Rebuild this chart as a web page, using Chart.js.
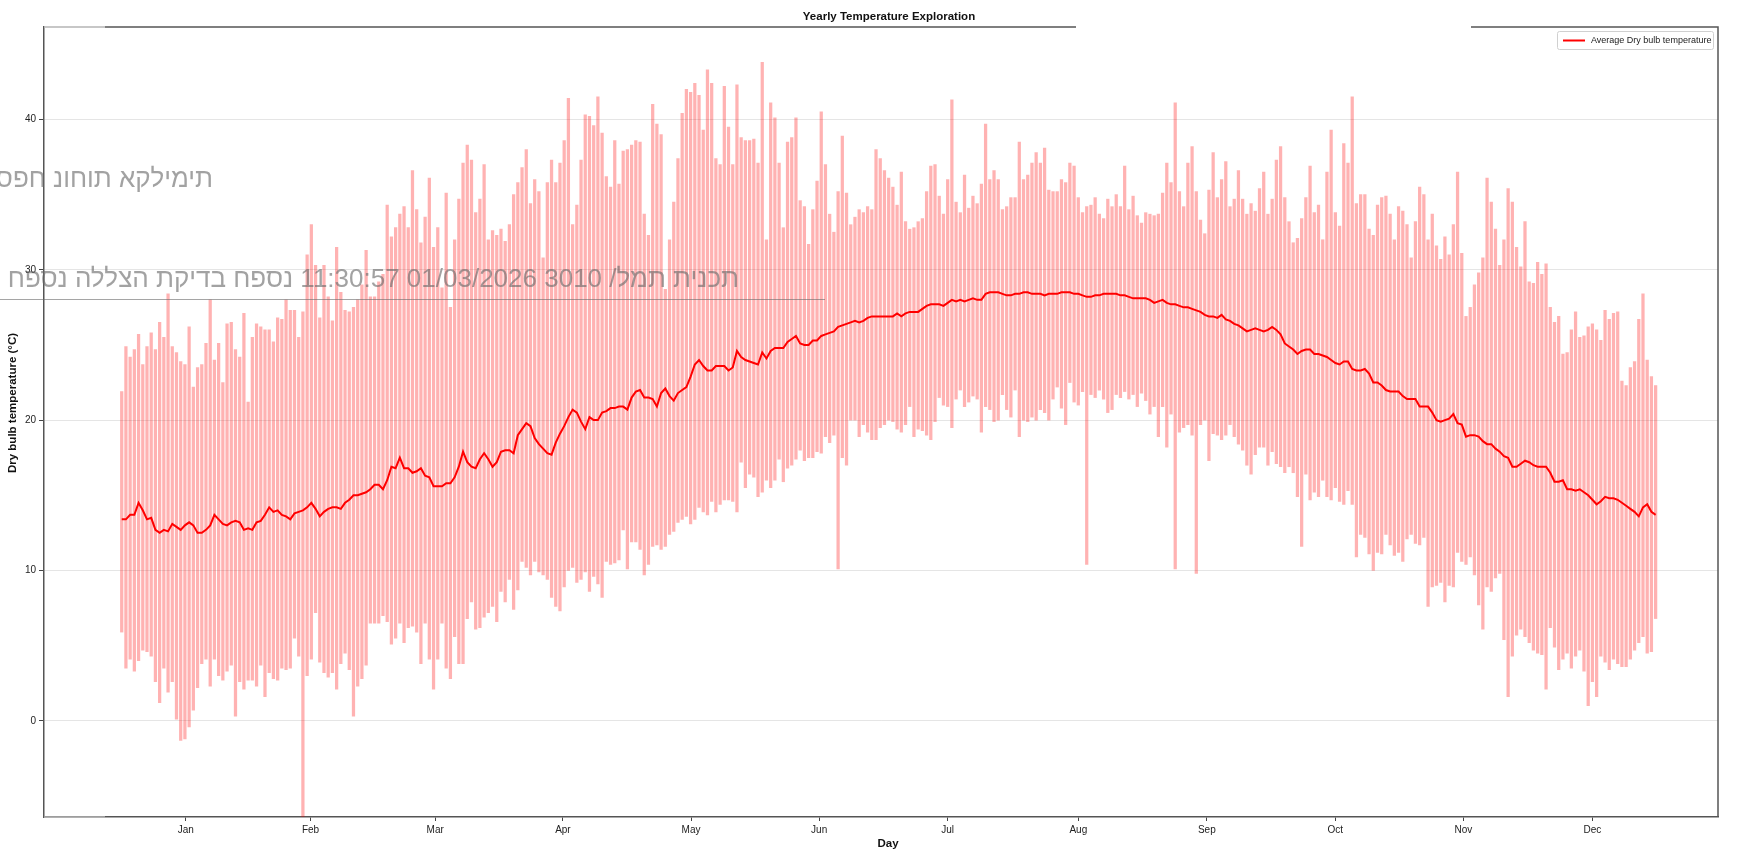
<!DOCTYPE html>
<html>
<head>
<meta charset="utf-8">
<title>Yearly Temperature Exploration</title>
<script src="https://cdn.jsdelivr.net/npm/chart.js@4.4.1/dist/chart.umd.min.js"></script>
<style>
  html, body { margin: 0; padding: 0; background: #fff; }
  #wrap { position: relative; width: 1737px; height: 852px; }
</style>
</head>
<body>
<div id="wrap"><canvas id="temp-chart" width="1737" height="852"></canvas></div>
<script>
// month labels sit in the middle of each month (day index, Jan 1 = 0)
const monthLabels = ['Jan', 'Feb', 'Mar', 'Apr', 'May', 'Jun', 'Jul', 'Aug', 'Sep', 'Oct', 'Nov', 'Dec'];
const monthTickDays = [15.2, 44.8, 74.4, 104.7, 135.1, 165.5, 196, 227, 257.5, 288, 318.4, 349];
const yTickValues = [0, 10, 20, 30, 40];

// daily maximum dry bulb temperature (°C)
const maxTemps = [
  21.9, 24.9, 24.2, 24.7, 25.7, 23.7, 24.9, 25.8, 24.7, 26.5,
  25.5, 28.4, 24.9, 24.5, 23.9, 23.7, 26.2, 22.2, 23.5, 23.7,
  25.1, 28.0, 24.0, 25.1, 22.5, 26.4, 26.5, 24.7, 24.2, 27.1,
  21.2, 25.5, 26.4, 26.2, 26.0, 26.0, 25.2, 26.8, 26.7, 28.0,
  27.3, 27.3, 25.5, 27.2, 31.0, 33.0, 30.3, 26.8, 30.3, 28.2,
  26.6, 31.5, 28.5, 27.3, 27.2, 27.5, 28.0, 29.0, 31.3, 28.2,
  28.2, 29.2, 29.7, 34.3, 32.2, 32.8, 33.7, 34.2, 32.8, 36.6,
  34.0, 31.8, 33.5, 36.1, 31.5, 32.8, 28.8, 35.1, 27.5, 32.0,
  34.7, 37.1, 38.3, 37.3, 33.8, 34.7, 37.0, 32.0, 32.6, 32.3,
  32.7, 31.9, 33.0, 35.0, 35.8, 36.8, 38.0, 34.4, 36.0, 35.2,
  30.8, 35.8, 37.3, 35.8, 37.1, 38.6, 41.4, 33.0, 34.3, 37.3,
  40.3, 40.2, 39.6, 41.5, 39.1, 36.2, 35.5, 38.6, 35.7, 37.9,
  38.0, 38.3, 38.6, 38.5, 33.7, 32.3, 41.0, 39.7, 39.0, 28.7,
  32.0, 34.5, 37.4, 40.4, 42.0, 41.8, 42.4, 41.6, 39.3, 43.3,
  42.4, 37.4, 37.0, 42.2, 39.5, 37.0, 42.3, 38.8, 38.6, 38.6,
  38.7, 37.1, 43.8, 32.0, 41.1, 40.1, 37.1, 32.8, 38.5, 38.8,
  40.1, 34.6, 34.2, 31.7, 34.0, 35.9, 40.5, 37.0, 33.7, 32.5,
  35.2, 38.9, 35.1, 33.0, 33.5, 34.0, 33.8, 34.2, 34.0, 38.0,
  37.4, 36.6, 36.1, 35.5, 34.3, 36.5, 33.2, 32.7, 32.8, 33.2,
  33.4, 35.2, 36.9, 37.0, 34.9, 33.7, 36.0, 41.3, 34.5, 33.8,
  36.3, 34.1, 34.9, 34.4, 35.7, 39.7, 36.0, 36.6, 36.0, 34.0,
  34.2, 34.8, 34.8, 38.5, 36.0, 36.3, 37.1, 37.8, 37.1, 38.1,
  35.3, 35.2, 35.2, 36.0, 35.8, 37.1, 36.9, 34.8, 33.8, 34.2,
  34.3, 34.8, 33.7, 33.4, 34.7, 34.2, 35.0, 34.2, 36.9, 34.0,
  34.9, 33.6, 33.1, 33.8, 33.7, 33.6, 33.7, 35.1, 37.1, 35.8,
  41.1, 35.2, 34.2, 37.1, 38.2, 35.2, 33.3, 32.4, 35.3, 37.8,
  34.8, 36.0, 37.2, 34.2, 34.7, 36.6, 34.7, 33.7, 34.4, 33.9,
  35.4, 36.5, 33.7, 34.7, 37.3, 38.2, 34.8, 33.2, 31.8, 32.1,
  33.4, 34.8, 36.9, 33.8, 34.3, 32.0, 36.5, 39.3, 33.8, 32.9,
  38.4, 37.1, 41.5, 34.4, 35.0, 35.0, 32.7, 32.3, 34.3, 34.8,
  34.9, 33.7, 32.0, 34.2, 33.9, 33.0, 30.8, 33.2, 35.5, 35.0,
  32.0, 33.7, 31.6, 30.7, 32.2, 31.0, 33.0, 36.5, 31.1, 26.9,
  27.5, 29.0, 29.8, 30.8, 36.1, 34.5, 32.7, 30.3, 32.0, 35.4,
  34.5, 31.5, 30.2, 33.2, 29.2, 29.1, 30.5, 29.7, 30.4, 27.5,
  26.5, 26.9, 24.4, 24.5, 26.0, 27.2, 25.5, 25.6, 26.2, 26.4,
  26.0, 25.3, 27.3, 26.7, 27.1, 27.2, 22.6, 22.3, 23.5, 23.9,
  26.7, 28.4, 24.0, 22.9, 22.3
];

// daily minimum dry bulb temperature (°C)
const minTemps = [
  5.9, 3.5, 4.1, 3.3, 4.0, 4.7, 4.6, 4.3, 2.6, 1.2,
  3.5, 1.9, 2.6, 0.1, -1.3, -1.2, -0.4, 0.7, 2.2, 3.8,
  4.1, 2.3, 4.1, 3.0, 2.7, 3.3, 3.7, 0.3, 2.6, 2.1,
  2.7, 2.7, 2.3, 3.7, 1.6, 3.2, 2.8, 2.7, 3.5, 3.4,
  3.5, 5.5, 4.3, -6.4, 3.0, 4.1, 7.2, 3.9, 3.2, 2.9,
  3.2, 2.1, 3.8, 4.5, 3.4, 0.3, 2.3, 2.8, 3.7, 6.5,
  6.5, 6.5, 7.0, 6.6, 5.1, 5.5, 6.5, 5.2, 6.2, 6.3,
  5.9, 3.8, 6.5, 4.1, 2.1, 4.1, 6.5, 3.5, 2.8, 5.6,
  3.8, 3.8, 6.8, 7.9, 6.1, 6.2, 6.9, 7.2, 7.6, 6.6,
  8.6, 7.9, 9.4, 7.4, 8.7, 10.6, 10.2, 9.7, 10.6, 9.9,
  9.7, 9.4, 8.2, 7.6, 7.3, 8.9, 10.0, 10.2, 9.2, 9.4,
  9.9, 8.6, 9.6, 9.1, 8.2, 10.6, 10.4, 10.5, 10.7, 12.7,
  10.1, 11.9, 11.9, 11.4, 9.7, 10.4, 11.6, 11.7, 11.4, 11.6,
  12.4, 12.6, 13.2, 13.4, 13.6, 13.1, 13.4, 14.2, 13.9, 13.7,
  14.6, 13.9, 14.4, 14.7, 14.7, 14.6, 13.9, 17.2, 15.5, 16.4,
  16.2, 14.9, 15.2, 16.0, 15.5, 16.0, 17.4, 15.9, 16.8, 17.0,
  17.4, 18.0, 17.3, 17.5, 17.5, 17.9, 17.8, 18.9, 18.5, 19.0,
  10.1, 17.5, 17.0, 20.0, 20.0, 18.9, 19.7, 19.2, 18.7, 18.7,
  19.5, 19.7, 20.0, 19.9, 19.4, 19.2, 19.7, 20.9, 18.9, 19.4,
  19.3, 19.0, 18.7, 19.9, 21.5, 21.0, 20.9, 19.5, 21.4, 22.0,
  20.9, 21.2, 21.6, 21.4, 19.2, 20.9, 20.7, 19.9, 20.0, 21.7,
  20.7, 20.2, 22.0, 18.9, 20.0, 19.9, 20.2, 20.0, 20.7, 20.5,
  20.0, 21.4, 22.2, 20.8, 19.7, 22.5, 21.2, 21.0, 21.9, 10.4,
  21.7, 21.5, 22.0, 21.4, 20.5, 20.7, 21.7, 21.5, 21.9, 21.4,
  21.7, 20.9, 21.8, 21.3, 20.4, 20.9, 18.9, 20.9, 18.2, 20.4,
  10.1, 19.2, 19.5, 19.7, 19.0, 9.8, 19.7, 20.0, 17.3, 19.1,
  19.0, 18.7, 19.0, 19.7, 18.9, 18.4, 18.0, 17.0, 16.4, 17.7,
  18.2, 18.2, 17.0, 17.9, 17.1, 16.9, 16.5, 16.9, 16.5, 14.9,
  11.6, 16.4, 14.7, 15.2, 14.9, 16.0, 14.9, 14.7, 15.5, 14.6,
  14.4, 15.3, 14.4, 10.9, 12.4, 12.2, 11.1, 10.0, 11.2, 11.1,
  12.4, 11.7, 11.0, 11.2, 10.6, 12.1, 12.4, 11.8, 11.7, 12.2,
  7.6, 8.9, 9.0, 9.2, 7.9, 9.0, 8.9, 11.2, 10.6, 10.4,
  10.9, 9.7, 7.7, 6.1, 8.9, 8.6, 9.5, 9.8, 5.4, 1.6,
  4.3, 5.7, 6.1, 5.6, 5.2, 4.7, 4.5, 4.4, 2.1, 6.2,
  4.9, 3.4, 4.1, 4.5, 3.5, 4.3, 4.7, 3.3, 1.0, 2.6,
  1.6, 4.3, 3.9, 3.4, 4.1, 3.8, 3.6, 3.6, 4.1, 4.7,
  5.2, 5.6, 4.5, 4.6, 6.8
];

// daily average dry bulb temperature (°C)
const avgTemps = [
  13.4, 13.4, 13.7, 13.7, 14.5, 14.0, 13.4, 13.5, 12.7, 12.5,
  12.7, 12.6, 13.1, 12.9, 12.7, 13.0, 13.2, 13.0, 12.5, 12.5,
  12.7, 13.0, 13.7, 13.4, 13.1, 13.0, 13.2, 13.3, 13.2, 12.7,
  12.8, 12.7, 13.2, 13.3, 13.7, 14.2, 13.9, 14.0, 13.7, 13.6,
  13.4, 13.8, 13.9, 14.0, 14.2, 14.5, 14.1, 13.6, 13.9, 14.1,
  14.2, 14.2, 14.1, 14.5, 14.7, 15.0, 15.0, 15.1, 15.2, 15.4,
  15.7, 15.7, 15.4, 16.0, 16.9, 16.8, 17.5, 16.8, 16.8, 16.5,
  16.6, 16.8, 16.3, 16.2, 15.6, 15.6, 15.6, 15.8, 15.8, 16.2,
  16.9, 17.9, 17.2, 16.9, 16.8, 17.4, 17.8, 17.4, 16.9, 17.2,
  17.9, 18.0, 18.0, 17.8, 19.0, 19.4, 19.8, 19.6, 18.8, 18.4,
  18.1, 17.8, 17.7, 18.5, 19.1, 19.6, 20.2, 20.7, 20.5, 19.9,
  19.4, 20.2, 20.0, 20.0, 20.5, 20.6, 20.8, 20.8, 20.9, 20.9,
  20.7, 21.5, 21.9, 22.0, 21.5, 21.5, 21.4, 20.9, 21.8, 22.1,
  21.6, 21.3, 21.8, 22.0, 22.2, 22.9, 23.7, 24.0, 23.6, 23.3,
  23.3, 23.6, 23.6, 23.6, 23.3, 23.5, 24.6, 24.2, 24.0, 23.9,
  23.8, 23.7, 24.5, 24.1, 24.6, 24.8, 24.8, 24.8, 25.2, 25.4,
  25.6, 25.1, 25.0, 25.0, 25.3, 25.3, 25.6, 25.7, 25.8, 25.9,
  26.2, 26.3, 26.4, 26.5, 26.6, 26.5, 26.6, 26.8, 26.9, 26.9,
  26.9, 26.9, 26.9, 26.9, 27.1, 26.9, 27.1, 27.2, 27.2, 27.2,
  27.4, 27.6, 27.7, 27.7, 27.7, 27.6, 27.8, 28.0, 27.9, 28.0,
  27.9, 28.0, 28.1, 28.0, 28.0, 28.4, 28.5, 28.5, 28.5, 28.4,
  28.3, 28.3, 28.4, 28.4, 28.5, 28.5, 28.4, 28.4, 28.4, 28.3,
  28.4, 28.4, 28.4, 28.5, 28.5, 28.5, 28.4, 28.4, 28.3, 28.2,
  28.2, 28.3, 28.3, 28.4, 28.4, 28.4, 28.4, 28.3, 28.3, 28.2,
  28.1, 28.1, 28.1, 28.1, 28.0, 27.8, 27.9, 28.0, 27.8, 27.7,
  27.7, 27.6, 27.5, 27.5, 27.4, 27.3, 27.2, 27.0, 26.9, 26.9,
  26.8, 27.0, 26.7, 26.6, 26.4, 26.3, 26.1, 25.9, 26.0, 26.1,
  26.0, 25.9, 26.0, 26.2, 26.0, 25.7, 25.1, 24.9, 24.7, 24.4,
  24.6, 24.7, 24.7, 24.4, 24.4, 24.3, 24.2, 24.0, 23.8, 23.7,
  23.9, 23.9, 23.4, 23.3, 23.3, 23.4, 23.1, 22.5, 22.5, 22.3,
  22.0, 21.9, 21.9, 21.9, 21.6, 21.4, 21.4, 21.4, 20.9, 20.9,
  20.9, 20.5, 20.0, 19.9, 20.0, 20.1, 20.4, 19.8, 19.7, 18.9,
  19.0, 19.0, 18.9, 18.6, 18.4, 18.4, 18.1, 17.9, 17.6, 17.5,
  16.9, 16.9, 17.1, 17.3, 17.2, 17.0, 16.9, 16.9, 16.9, 16.5,
  15.9, 15.9, 16.0, 15.4, 15.4, 15.3, 15.4, 15.2, 15.0, 14.7,
  14.4, 14.6, 14.9, 14.8, 14.8, 14.7, 14.5, 14.3, 14.1, 13.9,
  13.6, 14.2, 14.4, 13.9, 13.7
];

const chartTitle = 'Yearly Temperature Exploration';
const xTitle = 'Day';
const yTitle = 'Dry bulb temperature (°C)';
const legendLabel = 'Average Dry bulb temperature';
// overlay stamped on top of the screenshot
const stampLine1 = 'נספח נוחות אקלימית';
const stampLine2 = 'תכנית תמל/ 3010 01/03/2026 11:30:57 נספח בדיקת הצללה נספח נוחות אקלימית';

const days = avgTemps.map((_, i) => i);
const rangeData = days.map(d => ({ x: d, y: [minTemps[d], maxTemps[d]] }));
const avgData = days.map(d => ({ x: d, y: avgTemps[d] }));

const FONT = '"Liberation Sans", Arial, Helvetica, sans-serif';
Chart.defaults.font.family = FONT;

const decorations = {
    id: 'decorations',
    afterDraw(chart) {
        const { ctx, chartArea: a } = chart;
        ctx.save();

        // top + right spines, the top one is broken in the original
        ctx.strokeStyle = '#555';
        ctx.lineWidth = 1.5;
        ctx.beginPath();
        ctx.moveTo(105, a.top);
        ctx.lineTo(1076, a.top);
        ctx.moveTo(1471, a.top);
        ctx.lineTo(a.right, a.top);
        ctx.lineTo(a.right, a.bottom);
        ctx.stroke();
        ctx.strokeStyle = '#b5b5b5';
        ctx.beginPath();
        ctx.moveTo(a.left, a.top);
        ctx.lineTo(105, a.top);
        ctx.moveTo(a.left, a.bottom);
        ctx.lineTo(105, a.bottom);
        ctx.stroke();

        // title and axis titles
        ctx.fillStyle = '#111';
        ctx.textAlign = 'center';
        ctx.textBaseline = 'middle';
        ctx.font = 'bold 11.5px ' + FONT;
        ctx.fillText(chartTitle, 889, 17);
        ctx.fillText(xTitle, 888, 844);
        ctx.save();
        ctx.translate(13, 403);
        ctx.rotate(-Math.PI / 2);
        ctx.fillText(yTitle, 0, 0);
        ctx.restore();

        // legend
        ctx.fillStyle = 'rgba(255,255,255,0.9)';
        ctx.strokeStyle = '#d0d0d0';
        ctx.lineWidth = 1;
        ctx.beginPath();
        ctx.roundRect(1557.5, 31.5, 156, 18, 2);
        ctx.fill();
        ctx.stroke();
        ctx.strokeStyle = '#ff0000';
        ctx.lineWidth = 2;
        ctx.beginPath();
        ctx.moveTo(1563, 40.5);
        ctx.lineTo(1585, 40.5);
        ctx.stroke();
        ctx.fillStyle = '#222';
        ctx.textAlign = 'left';
        ctx.font = '9px ' + FONT;
        ctx.fillText(legendLabel, 1591, 41);

        // grey stamp over the picture
        ctx.fillStyle = 'rgba(105,105,105,0.62)';
        ctx.font = '26px ' + FONT;
        ctx.textBaseline = 'alphabetic';
        ctx.direction = 'ltr';
        ctx.textAlign = 'right';
        ctx.fillText('\u202D' + stampLine1 + '\u202C', 213, 187);
        ctx.direction = 'rtl';
        ctx.textAlign = 'right';
        ctx.fillText(stampLine2, 739, 287);
        ctx.strokeStyle = 'rgba(105,105,105,0.6)';
        ctx.lineWidth = 1;
        ctx.beginPath();
        ctx.moveTo(0, 299.5);
        ctx.lineTo(825, 299.5);
        ctx.stroke();

        ctx.restore();
    }
};

new Chart(document.getElementById('temp-chart'), {
    type: 'bar',
    data: {
        datasets: [
            {
                type: 'line',
                label: legendLabel,
                data: avgData,
                borderColor: '#ff0000',
                borderWidth: 2,
                pointRadius: 0,
                tension: 0,
                order: 0
            },
            {
                type: 'bar',
                label: 'Daily range',
                data: rangeData,
                backgroundColor: 'rgba(255, 0, 0, 0.3)',
                borderWidth: 0,
                barThickness: 2.6,
                order: 1
            }
        ]
    },
    options: {
        responsive: false,
        animation: false,
        devicePixelRatio: 1,
        layout: { padding: { top: 27, right: 19, left: 0, bottom: 0 } },
        plugins: {
            legend: { display: false },
            tooltip: { enabled: false }
        },
        scales: {
            x: {
                type: 'linear',
                offset: false,
                min: -18.44,
                max: 378.8,
                afterBuildTicks: scale => {
                    scale.ticks = monthTickDays.map(v => ({ value: v }));
                },
                afterFit: scale => { scale.height = 35; },
                ticks: {
                    autoSkip: false,
                    maxRotation: 0,
                    padding: 3,
                    color: '#222',
                    font: { size: 10 },
                    callback: (value, index) => monthLabels[index]
                },
                grid: {
                    offset: false,
                    drawOnChartArea: false,
                    tickLength: 4,
                    tickColor: '#444',
                    tickWidth: 1
                },
                border: { display: true, color: '#555', width: 1.5 }
            },
            y: {
                min: -6.4,
                max: 46.15,
                afterBuildTicks: scale => {
                    scale.ticks = yTickValues.map(v => ({ value: v }));
                },
                afterFit: scale => { scale.width = 44; },
                ticks: {
                    padding: 3,
                    color: '#222',
                    font: { size: 10 }
                },
                grid: {
                    color: 'rgba(0,0,0,0.13)',
                    lineWidth: 0.8,
                    borderDash: [1.5, 2.5],
                    tickLength: 5,
                    tickColor: '#444',
                    tickWidth: 1,
                    tickBorderDash: []
                },
                border: { display: true, color: '#555', width: 1.5 }
            }
        }
    },
    plugins: [decorations]
});
</script>
</body>
</html>
